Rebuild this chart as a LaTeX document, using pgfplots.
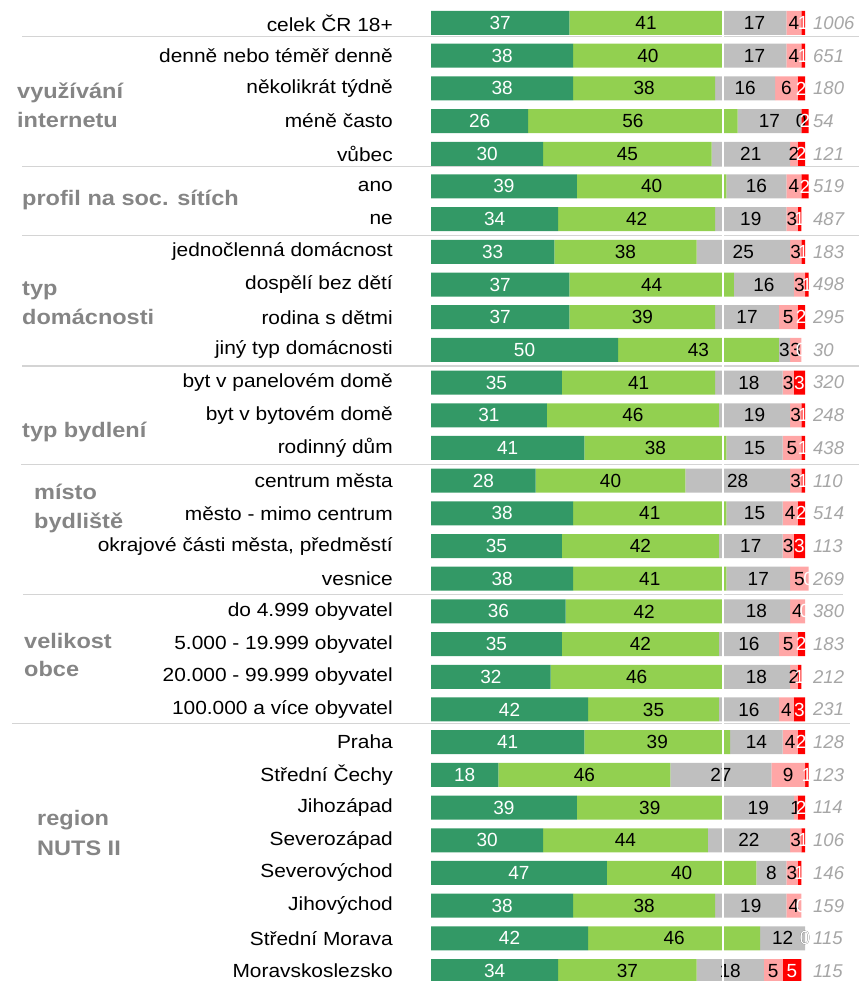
\documentclass[border=0pt]{standalone}
\usepackage{pgfplots}
\pgfplotsset{compat=1.18}
\usepackage{pgfplotstable}
\usepackage{graphicx}
\usepackage{fontspec}
\setmainfont{Liberation Sans}
\definecolor{dg}{HTML}{339966}
\definecolor{lg}{HTML}{92D050}
\definecolor{gr}{HTML}{BFBFBF}
\definecolor{pk}{HTML}{FFA6A6}
\definecolor{rd}{HTML}{FF0000}
\definecolor{grplab}{HTML}{858585}
\definecolor{nlab}{HTML}{A6A6A6}
\definecolor{sep}{HTML}{D4D4D4}
\newcommand\hs[2]{\scalebox{#1}[1]{#2}}
\newcommand\catfont{\fontsize{19}{22}\selectfont}
\newcommand\numfont{\fontsize{19}{22}\selectfont}
\newcommand\grpfont{\fontsize{21}{25}\selectfont\bfseries}
\newcommand\cl[1]{\hs{1.1}{#1}}

\pgfplotstableread{
row dg lg gr pk rd n
1 37 41 17 4 1 1006
2 38 40 17 4 1 651
3 38 38 16 6 2 180
4 26 56 17 0 2 54
5 30 45 21 2 2 121
6 39 40 16 4 2 519
7 34 42 19 3 1 487
8 33 38 25 3 1 183
9 37 44 16 3 1 498
10 37 39 17 5 2 295
11 50 43 3 3 0 30
12 35 41 18 3 3 320
13 31 46 19 3 1 248
14 41 38 15 5 1 438
15 28 40 28 3 1 110
16 38 41 15 4 2 514
17 35 42 17 3 3 113
18 38 41 17 5 0 269
19 36 42 18 4 0 380
20 35 42 16 5 2 183
21 32 46 18 2 1 212
22 42 35 16 4 3 231
23 41 39 14 4 2 128
24 18 46 27 9 1 123
25 39 39 19 1 2 114
26 30 44 22 3 1 106
27 47 40 8 3 1 146
28 38 38 19 4 0 159
29 42 46 12 0 0 115
30 34 37 18 5 5 115
}\data

\pgfplotsset{
  base/.style={
    at={(431pt,-6.35pt)}, anchor=south west, scale only axis,
    width=374pt, height=980.7pt,
    xmin=0, xmax=100, ymin=0.5, ymax=30.5, y dir=reverse, clip=false,
  },
  lab/.style={draw=none, nodes near coords={\pgfplotspointmeta},
    point meta=explicit symbolic,
    every node near coord/.append style={anchor=center, font=\numfont, text=#1, inner sep=0pt}},
}

\begin{document}
\begin{tikzpicture}[x=1pt,y=1pt]
\useasboundingbox (0,0) rectangle (859,981);
\begin{axis}[base,
  xbar stacked, bar width=24pt,
  hide x axis, axis y line*=left, y axis line style={draw=none},
  ytick={1,...,30}, major tick length=0pt, ytick style={draw=none},
  yticklabel style={anchor=east, inner sep=0pt, xshift=-38pt, font=\catfont},
  yticklabels={
    \cl{celek ČR 18+},
    \cl{denně nebo téměř denně},
    \cl{několikrát týdně},
    \cl{méně často},
    \cl{vůbec},
    \cl{ano},
    \cl{ne},
    \cl{jednočlenná domácnost},
    \cl{dospělí bez dětí},
    \cl{rodina s dětmi},
    \cl{jiný typ domácnosti},
    \cl{byt v panelovém domě},
    \cl{byt v bytovém domě},
    \cl{rodinný dům},
    \cl{centrum města},
    \cl{město - mimo centrum},
    \cl{okrajové části města, předměstí},
    \cl{vesnice},
    \cl{do 4.999 obyvatel},
    \cl{5.000 - 19.999 obyvatel},
    \cl{20.000 - 99.999 obyvatel},
    \cl{100.000 a více obyvatel},
    \cl{Praha},
    \cl{Střední Čechy},
    \cl{Jihozápad},
    \cl{Severozápad},
    \cl{Severovýchod},
    \cl{Jihovýchod},
    \cl{Střední Morava},
    \cl{Moravskoslezsko}},
]
\addplot[fill=dg, draw=none] table[x=dg, y=row]{\data};
\addplot[fill=lg, draw=none] table[x=lg, y=row]{\data};
\addplot[fill=gr, draw=none] table[x=gr, y=row]{\data};
\addplot[fill=pk, draw=none] table[x=pk, y=row]{\data};
\addplot[fill=rd, draw=none] table[x=rd, y=row]{\data};
\end{axis}

\begin{axis}[base, hide axis]
\addplot[lab=white] table[x expr=\thisrow{dg}/2, y=row, meta=dg]{\data};
\addplot[lab=black] table[x expr=\thisrow{dg}+\thisrow{lg}/2, y=row, meta=lg]{\data};
\addplot[lab=black] table[x expr=\thisrow{dg}+\thisrow{lg}+\thisrow{gr}/2, y=row, meta=gr]{\data};
\addplot[lab=black] table[x expr=\thisrow{dg}+\thisrow{lg}+\thisrow{gr}+\thisrow{pk}/2, y=row, meta=pk]{\data};
\addplot[lab=white] table[x expr=\thisrow{dg}+\thisrow{lg}+\thisrow{gr}+\thisrow{pk}+\thisrow{rd}/2, y=row, meta=rd]{\data};
\addplot[draw=none, nodes near coords={\pgfplotspointmeta}, point meta=explicit symbolic,
  every node near coord/.append style={anchor=west, xshift=8pt, inner sep=0pt,
    font=\fontsize{18.5}{22}\selectfont\itshape, text=nlab}]
  table[x expr=100, y=row, meta=n]{\data};
\end{axis}

% group separators
\begin{scope}[sep, line width=1.5pt]
\draw (22,981-36.5) -- (859,981-36.5);
\draw (22,981-166.5) -- (859,981-166.5);
\draw (22,981-235.5) -- (859,981-235.5);
\draw (22,981-366) -- (859,981-366);
\draw (21,981-464.3) -- (859,981-464.3);
\draw (23,981-594.5) -- (843,981-594.5);
\draw (12,981-723.5) -- (850,981-723.5);
\end{scope}
\draw[white, line width=2pt] (723,0) -- (723,981);

% group labels
\begin{scope}[every node/.style={anchor=base west, inner sep=0pt, font=\grpfont, text=grplab}]
\node at (17,981-99) {\hs{1.12}{využívání}};
\node at (17,981-128) {\hs{1.12}{internetu}};
\node at (22,981-206) {\hs{1.12}{profil na soc. sítích}};
\node at (22,981-296) {\hs{1.12}{typ}};
\node at (22,981-325) {\hs{1.12}{domácnosti}};
\node at (22,981-438) {\hs{1.12}{typ bydlení}};
\node at (34,981-500) {\hs{1.12}{místo}};
\node at (34,981-529) {\hs{1.12}{bydliště}};
\node at (24,981-649) {\hs{1.12}{velikost}};
\node at (24,981-677) {\hs{1.12}{obce}};
\node at (37,981-826) {\hs{1.12}{region}};
\node at (37,981-856) {\hs{1.12}{NUTS II}};
\end{scope}
\end{tikzpicture}
\end{document}
